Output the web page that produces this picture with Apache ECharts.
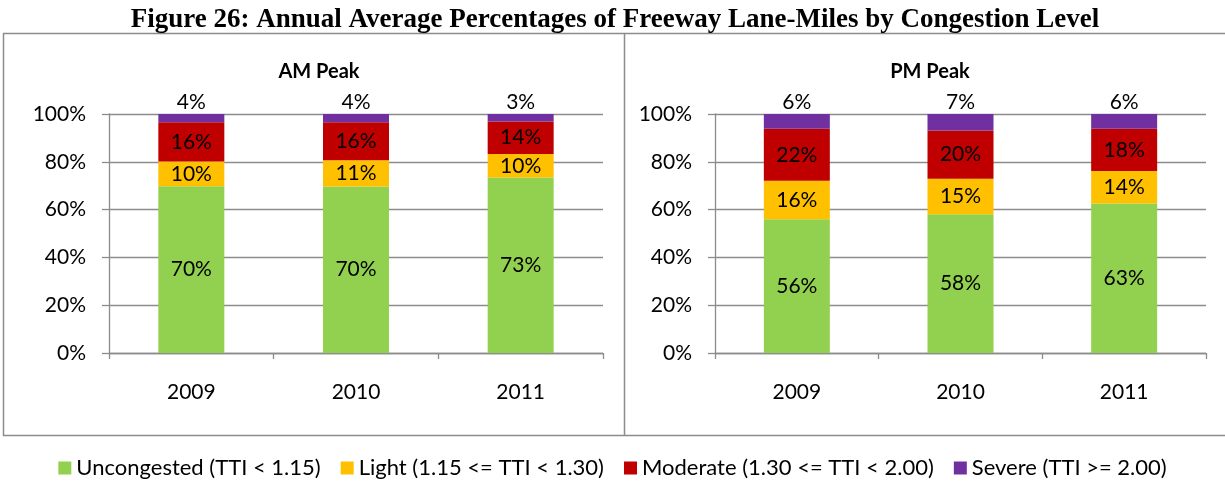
<!DOCTYPE html>
<html>
<head>
<meta charset="utf-8">
<script src="https://cdn.jsdelivr.net/npm/echarts@6/dist/echarts.min.js"></script>
<style>
  html, body { margin: 0; padding: 0; background: #fff; }
  #chart { width: 1225px; height: 481px; }
</style>
</head>
<body>
<div id="chart"></div>
<script>
// categories and values (percent of lane-miles)
var years = ['2009', '2010', '2011'];
var levelNames = ['Uncongested (TTI < 1.15)', 'Light (1.15 <= TTI < 1.30)',
	'Moderate (1.30 <= TTI < 2.00)', 'Severe (TTI >= 2.00)'];
var levelColors = ['#92D050', '#FFC000', '#C00000', '#7030A0'];

var amUncongested = [69.8, 69.7, 73.4];
var amLight = [10.3, 10.9, 9.9];
var amModerate = [16.4, 15.9, 13.6];
var amSevere = [3.5, 3.5, 3.1];

var pmUncongested = [56.0, 58.1, 62.6];
var pmLight = [16.1, 14.8, 13.5];
var pmModerate = [21.7, 20.2, 17.7];
var pmSevere = [6.2, 6.9, 6.2];

var yTicks = [0, 20, 40, 60, 80, 100];

var FONT = 'Lato';
var FS = 21;
var GRAY = '#8c8c8c';

var myChart = echarts.init(document.getElementById('chart'));

function pct(p) {
	return Math.round(p.value) + '%';
}

// one stacked series per level, per panel
function makeSeries(idx, stackName, values, level) {
	return {
		type: 'bar',
		name: levelNames[level],
		xAxisIndex: idx,
		yAxisIndex: idx,
		stack: stackName,
		barWidth: 66,
		data: values,
		itemStyle: { color: levelColors[level] },
		label: {
			show: true,
			position: level == 3 ? 'top' : 'inside',
			distance: 1,
			color: '#000',
			fontFamily: FONT,
			fontSize: FS,
			formatter: pct
		}
	};
}

function makeXAxis(idx) {
	return {
		type: 'category',
		gridIndex: idx,
		data: years,
		axisLine: { lineStyle: { color: GRAY, width: 1.3 } },
		axisTick: { show: true, length: 6, lineStyle: { color: GRAY, width: 1.3 } },
		axisLabel: { color: '#000', fontFamily: FONT, fontSize: FS, margin: 29 }
	};
}

function makeYAxis(idx) {
	return {
		type: 'value',
		gridIndex: idx,
		min: yTicks[0],
		max: yTicks[yTicks.length - 1],
		interval: 20,
		axisLine: { show: true, lineStyle: { color: GRAY, width: 1.3 } },
		axisTick: { show: true, length: 7, lineStyle: { color: GRAY, width: 1.3 } },
		splitLine: { lineStyle: { color: GRAY, width: 1.3 } },
		axisLabel: { color: '#000', fontFamily: FONT, fontSize: FS, margin: 23, formatter: '{value}%' }
	};
}

var option = {
	animation: false,
	title: [ {
		text: 'Figure 26: Annual Average Percentages of Freeway Lane-Miles by Congestion Level',
		left: 610,
		top: 2,
		textAlign: 'center',
		textStyle: { fontFamily: 'Liberation Serif', fontWeight: 'bold', fontSize: 27, color: '#000' }
	}, {
		text: 'AM Peak',
		left: 314,
		top: 57,
		textAlign: 'center',
		textStyle: { fontFamily: FONT, fontWeight: 'bold', fontSize: 20, color: '#000' }
	}, {
		text: 'PM Peak',
		left: 925,
		top: 57,
		textAlign: 'center',
		textStyle: { fontFamily: FONT, fontWeight: 'bold', fontSize: 20, color: '#000' }
	} ],
	legend: {
		top: 452,
		left: 'center',
		itemWidth: 13,
		itemHeight: 13,
		itemGap: 20,
		icon: 'rect',
		data: levelNames,
		textStyle: { fontFamily: FONT, fontSize: 22, color: '#000' }
	},
	grid: [
		{ left: 109, top: 114, width: 494, height: 239 },
		{ left: 715, top: 114, width: 491, height: 239 }
	],
	xAxis: [ makeXAxis(0), makeXAxis(1) ],
	yAxis: [ makeYAxis(0), makeYAxis(1) ],
	graphic: [ {
		type: 'polyline',
		shape: { points: [[1230, 33.5], [3.5, 33.5], [3.5, 435.5], [1230, 435.5]] },
		style: { stroke: GRAY, lineWidth: 1.5, fill: null }
	}, {
		type: 'line',
		shape: { x1: 624.5, y1: 33.5, x2: 624.5, y2: 435.5 },
		style: { stroke: GRAY, lineWidth: 1.5 }
	} ],
	series: [
		makeSeries(0, 'am', amUncongested, 0),
		makeSeries(0, 'am', amLight, 1),
		makeSeries(0, 'am', amModerate, 2),
		makeSeries(0, 'am', amSevere, 3),
		makeSeries(1, 'pm', pmUncongested, 0),
		makeSeries(1, 'pm', pmLight, 1),
		makeSeries(1, 'pm', pmModerate, 2),
		makeSeries(1, 'pm', pmSevere, 3)
	]
};
myChart.setOption(option);
</script>
</body>
</html>
